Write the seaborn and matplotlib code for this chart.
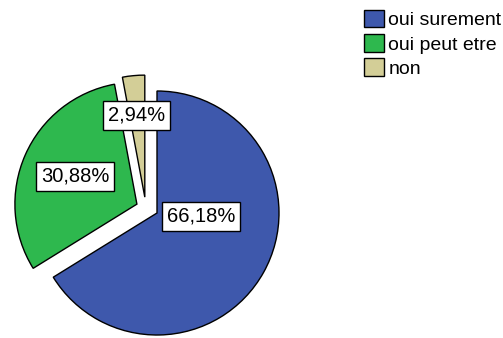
import numpy as np
import matplotlib
matplotlib.use("Agg")
import matplotlib.pyplot as plt
import seaborn as sns

# data
categories = ["oui surement", "oui peut etre", "non"]
percents = [66.18, 30.88, 2.94]
pct_labels = ["66,18%", "30,88%", "2,94%"]
colors = ["#3E58AC", "#2EB84E", "#D3CE97"]

sns.set_style("white")
plt.rcParams['font.family'] = ['Liberation Sans', 'DejaVu Sans']
plt.rcParams['text.color'] = 'black'

fig = plt.figure(figsize=(5.03, 3.38), dpi=100)
ax = fig.add_axes([0, 0, 1, 1])

wedges, texts = ax.pie(percents, colors=colors, startangle=90, counterclock=False,
                       explode=[0, 0.18, 0.15], radius=1,
                       wedgeprops=dict(edgecolor="black", linewidth=1))
# the small slice is pulled out up and to the left in the original
wedges[2].set_center((-0.1, 0.13))

# label boxes, placed like the SPSS output
label_pos = [(0.36, -0.025), (-0.67, 0.30), (-0.17, 0.80)]
for lab, (x, y) in zip(pct_labels, label_pos):
    ax.text(x, y, lab, ha="center", va="center", fontsize=14.5,
            bbox=dict(boxstyle="square,pad=0.25", fc="white", ec="black", lw=1))

ax.set_xlim(-157 / 122, (503 - 157) / 122)
ax.set_ylim(-125 / 122, 213 / 122)
ax.set_aspect("equal")
ax.axis("off")

fig.legend(wedges, categories, loc="upper left", bbox_to_anchor=(364 / 503, 1 - 10 / 338),
           frameon=False, fontsize=14, handlelength=1.05, handleheight=1.0,
           handletextpad=0.2, labelspacing=0.25, borderaxespad=0, borderpad=0)

fig.savefig("out.png", dpi=100)
